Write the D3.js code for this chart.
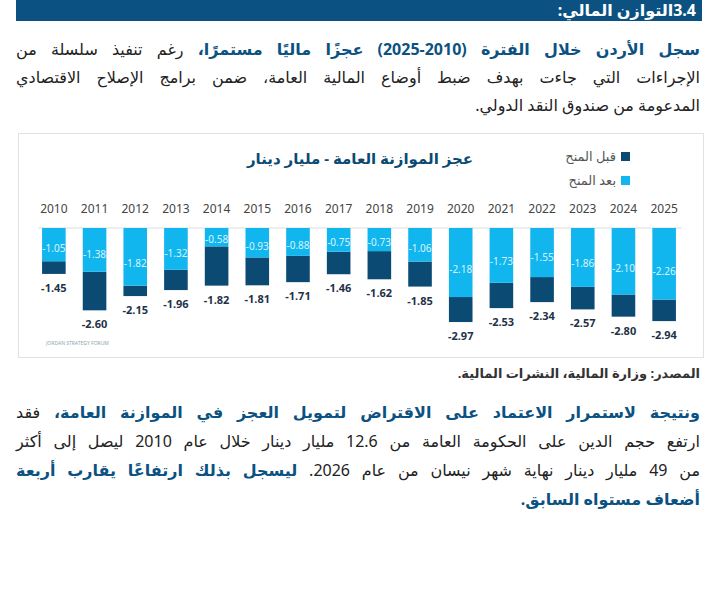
<!DOCTYPE html>
<html><head><meta charset="utf-8">
<script src="https://cdn.jsdelivr.net/npm/d3@7"></script>
<style>
body{margin:0;background:#fff;font-family:"Noto Sans","DejaVu Sans",sans-serif;width:728px;height:600px;overflow:hidden;position:relative}
.hdr{position:absolute;left:16px;top:0;width:686px;height:21px;background:#0b5282;color:#fff;font-weight:bold;font-size:16px;direction:rtl;padding-right:6px;box-sizing:border-box;line-height:20px}
.ln{position:absolute;left:16px;width:684px;direction:rtl;font-size:16px;color:#222;text-align:justify;text-align-last:justify;white-space:nowrap}
.last{text-align-last:right}
b.bl{color:#0b5282}
#chart{position:absolute;left:18px;top:133px}
</style></head><body>
<div class="hdr">3.4التوازن المالي:</div>
<div class="ln" style="top:38px"><b class="bl">سجل الأردن خلال الفترة (2010-2025) عجزًا ماليًا مستمرًا،</b> رغم تنفيذ سلسلة من</div>
<div class="ln" style="top:66px">الإجراءات التي جاءت بهدف ضبط أوضاع المالية العامة، ضمن برامج الإصلاح الاقتصادي</div>
<div class="ln last" style="top:94px">المدعومة من صندوق النقد الدولي.</div>
<div id="chart"></div>
<div class="ln last" style="top:364px;font-size:13px;font-weight:bold;color:#333">المصدر: وزارة المالية، النشرات المالية.</div>
<div class="ln" style="top:401px"><b class="bl">ونتيجة لاستمرار الاعتماد على الاقتراض لتمويل العجز في الموازنة العامة،</b> فقد</div>
<div class="ln" style="top:430px">ارتفع حجم الدين على الحكومة العامة من 12.6 مليار دينار خلال عام 2010 ليصل إلى أكثر</div>
<div class="ln" style="top:459px">من 49 مليار دينار نهاية شهر نيسان من عام 2026. <b class="bl">ليسجل بذلك ارتفاعًا يقارب أربعة</b></div>
<div class="ln last" style="top:488px"><b class="bl">أضعاف مستواه السابق.</b></div>
<script>
const years = [2010,2011,2012,2013,2014,2015,2016,2017,2018,2019,2020,2021,2022,2023,2024,2025];
const beforeGrants = [-1.45,-2.60,-2.15,-1.96,-1.82,-1.81,-1.71,-1.46,-1.62,-1.85,-2.97,-2.53,-2.34,-2.57,-2.80,-2.94];
const afterGrants = [-1.05,-1.38,-1.82,-1.32,-0.58,-0.93,-0.88,-0.75,-0.73,-1.06,-2.18,-1.73,-1.55,-1.86,-2.10,-2.26];
const title = "عجز الموازنة العامة - مليار دينار";
const legendNames = ["قبل المنح","بعد المنح"];
const dark = "#0b4a72", light = "#12b6ee";

const W = 686, H = 225;
const svg = d3.select("#chart").append("svg").attr("width", W).attr("height", H);
svg.append("rect").attr("x",0.5).attr("y",0.5).attr("width",W-1).attr("height",H-1)
  .attr("fill","#fff").attr("stroke","#e2e2e2");

const x = d3.scaleBand().domain(years).range([20, 662]).paddingInner(0.42).paddingOuter(0.1);
const y = d3.scaleLinear().domain([0,-3]).range([95, 190]);

svg.append("text").attr("x",342).attr("y",31).attr("text-anchor","middle")
  .attr("font-size",15).attr("font-weight","bold").attr("fill","#0b4a72").text(title);

[dark, light].forEach((c,i) => {
  const g = svg.append("g").attr("transform",`translate(0,${25+i*24})`);
  g.append("rect").attr("x",603).attr("y",-6).attr("width",9).attr("height",9).attr("fill",c);
  g.append("text").attr("x",598).attr("y",3).attr("text-anchor","end").attr("font-size",13)
    .attr("fill","#555").text(legendNames[i]);
});

const xAxis = svg.append("g").attr("transform","translate(0,80)")
  .call(d3.axisTop(x).tickSize(0).tickPadding(0));
xAxis.select(".domain").remove();
xAxis.selectAll("text").attr("font-size",12).attr("fill","#444").attr("font-family","Noto Sans");

svg.append("line").attr("x1",20).attr("x2",664).attr("y1",y(0)).attr("y2",y(0)).attr("stroke","#ddd");

svg.selectAll(".b").data(years).join("rect").attr("fill",dark)
  .attr("x",d=>x(d)).attr("width",x.bandwidth())
  .attr("y",(d,i)=>y(afterGrants[i])).attr("height",(d,i)=>y(beforeGrants[i])-y(afterGrants[i]));
svg.selectAll(".a").data(years).join("rect").attr("fill",light)
  .attr("x",d=>x(d)).attr("width",x.bandwidth())
  .attr("y",y(0)).attr("height",(d,i)=>y(afterGrants[i])-y(0));

svg.selectAll(".la").data(years).join("text")
  .attr("x",d=>x(d)+x.bandwidth()/2)
  .attr("y",(d,i)=>Math.max(y(0)+ (y(afterGrants[i])-y(0))*0.6 + 4, y(0)+14))
  .attr("text-anchor","middle").attr("font-size",10).attr("fill","#d8f4ff")
  .text((d,i)=>afterGrants[i].toFixed(2));
svg.selectAll(".lb").data(years).join("text")
  .attr("x",d=>x(d)+x.bandwidth()/2).attr("y",(d,i)=>y(beforeGrants[i])+18)
  .attr("text-anchor","middle").attr("font-size",11).attr("font-weight","bold").attr("fill","#1f3347")
  .text((d,i)=>beforeGrants[i].toFixed(2));

svg.append("text").attr("x",28).attr("y",212).attr("font-size",5).attr("fill","#8aa").text("JORDAN STRATEGY FORUM");
</script>
</body></html>
